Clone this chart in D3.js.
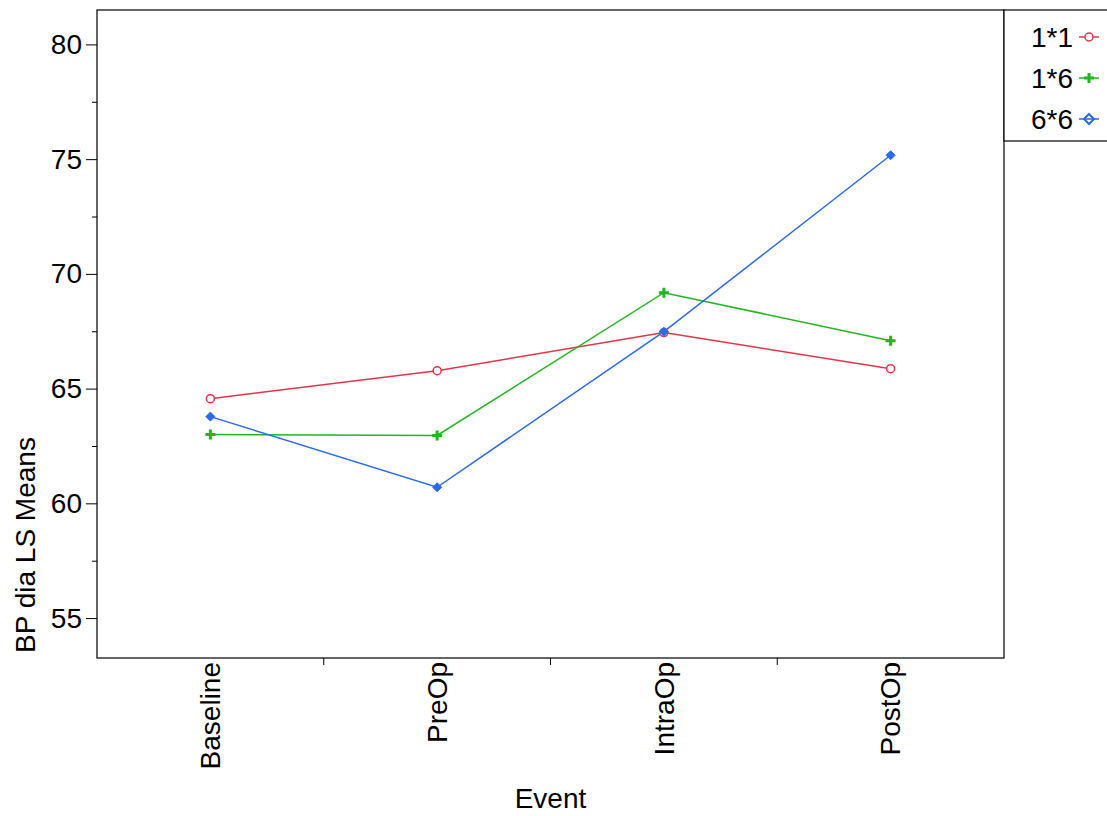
<!DOCTYPE html>
<html><head><meta charset="utf-8">
<script src="https://cdn.jsdelivr.net/npm/d3@7"></script>
<style>body{margin:0;background:#fff}svg{display:block;font-family:"Liberation Sans",Arial,sans-serif}</style>
</head><body><svg id="c" width="1107" height="816"></svg>
<script>
const categories = ["Baseline","PreOp","IntraOp","PostOp"];
const seriesNames = ["1*1","1*6","6*6"];
const s11 = [64.56, 65.78, 67.44, 65.87];
const s16 = [63.0, 62.96, 69.18, 67.09];
const s66 = [63.78, 60.70, 67.48, 75.17];
const yTicks = [55,60,65,70,75,80];
const yMinor = [57.5,62.5,67.5,72.5,77.5];
const colors = ["#e8334a","#22b522","#2a6af0"];
const series = [s11,s16,s66];

const FS = 28;
const svg = d3.select("#c");
const L=97,T=10,R=1004,B=658;
const x = d3.scaleBand().domain(categories).range([L,R]);
const y = d3.scaleLinear().domain([53.26,81.5]).range([B,T]);

svg.append("rect").attr("x",L).attr("y",T).attr("width",R-L).attr("height",B-T)
  .attr("fill","none").attr("stroke","#000").attr("stroke-width",1.2);

// y axis
const ya = svg.append("g").attr("transform",`translate(${L},0)`)
  .call(d3.axisLeft(y).tickValues(yTicks).tickSize(11).tickPadding(4));
ya.select(".domain").remove();
ya.selectAll("text").attr("font-size",FS).attr("fill","#000").attr("font-family","Liberation Sans, Arial, sans-serif");
const ym = svg.append("g").attr("transform",`translate(${L},0)`)
  .call(d3.axisLeft(y).tickValues(yMinor).tickSize(5).tickFormat(""));
ym.select(".domain").remove();

// x axis
const xa = svg.append("g").attr("transform",`translate(0,${B})`)
  .call(d3.axisBottom(x).tickSize(0).tickPadding(0));
xa.select(".domain").remove();
xa.selectAll("text").attr("font-size",FS).attr("fill","#000")
  .attr("font-family","Liberation Sans, Arial, sans-serif")
  .attr("text-anchor","end").attr("dy","0.35em").attr("dx",0)
  .attr("transform","rotate(-90)").attr("x",-4).attr("y",0);
// between-category ticks
categories.slice(1).forEach(c=>{
  const xp = x(c);
  svg.append("line").attr("x1",xp).attr("x2",xp).attr("y1",B).attr("y2",B+7).attr("stroke","#000");
});

// titles
svg.append("text").attr("x",(L+R)/2).attr("y",808).attr("text-anchor","middle")
  .attr("font-size",FS).text("Event");
svg.append("text").attr("transform","translate(35,545) rotate(-90)").attr("text-anchor","middle")
  .attr("font-size",FS).text("BP dia LS Means");

const cx = c => x(c)+x.bandwidth()/2;
const line = d3.line().x((d,i)=>cx(categories[i])).y(d=>y(d));

function marker(g, k, px, py, col){
  if(k===0){
    g.append("circle").attr("cx",px).attr("cy",py).attr("r",4).attr("fill","#fff").attr("stroke",col).attr("stroke-width",1.5);
  } else if(k===1){
    g.append("path").attr("d",`M${px-5},${py}H${px+5}M${px},${py-5}V${py+5}`).attr("stroke",col).attr("stroke-width",3);
  } else {
    g.append("path").attr("d",`M${px},${py-4.5}L${px+4.5},${py}L${px},${py+4.5}L${px-4.5},${py}Z`).attr("fill",col).attr("stroke",col).attr("stroke-width",1);
  }
}

series.forEach((s,k)=>{
  svg.append("path").attr("d",line(s)).attr("fill","none").attr("stroke",colors[k]).attr("stroke-width",1.5);
});
series.forEach((s,k)=>{
  const g = svg.append("g");
  s.forEach((v,i)=>marker(g,k,cx(categories[i]),y(v),colors[k]));
});

// legend
svg.append("rect").attr("x",R).attr("y",T).attr("width",120).attr("height",131)
  .attr("fill","#fff").attr("stroke","#000").attr("stroke-width",1.2);
seriesNames.forEach((n,k)=>{
  const ly = 37 + k*41;
  svg.append("text").attr("x",1073).attr("y",ly).attr("dy","0.36em").attr("text-anchor","end")
    .attr("font-size",FS).text(n);
  svg.append("line").attr("x1",1079).attr("x2",1099).attr("y1",ly).attr("y2",ly).attr("stroke",colors[k]).attr("stroke-width",1.5);
  const g = svg.append("g");
  if(k===2){
    g.append("path").attr("d",`M1089,${ly-5}L1094,${ly}L1089,${ly+5}L1084,${ly}Z`).attr("fill","none").attr("stroke",colors[k]).attr("stroke-width",2);
  } else marker(g,k,1089,ly,colors[k]);
});
</script></body></html>
